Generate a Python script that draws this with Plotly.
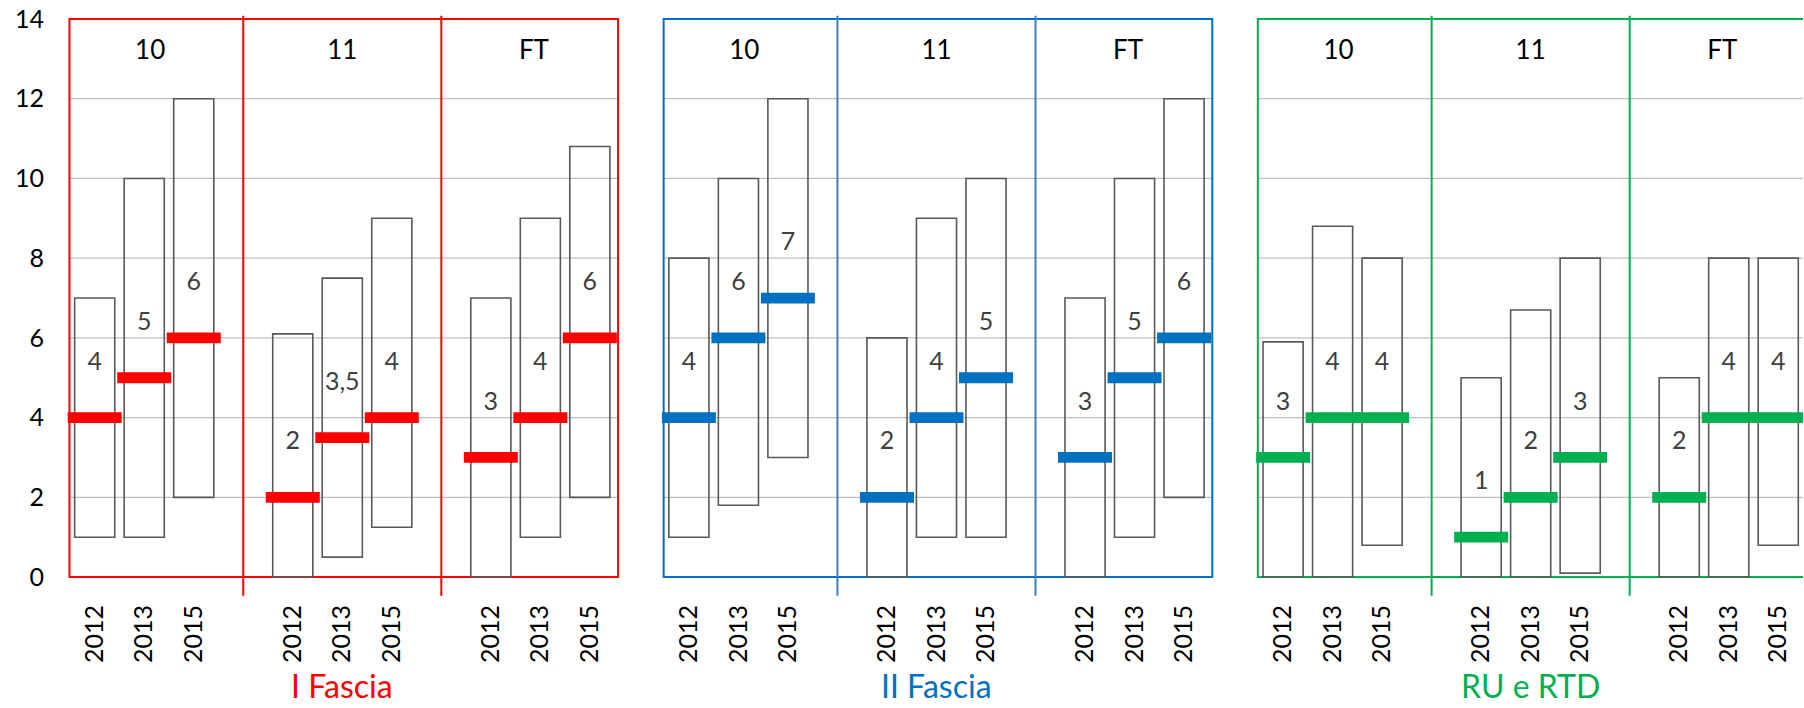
import plotly.graph_objects as go

# ---------------- data ----------------
groups = ["I Fascia", "II Fascia", "RU e RTD"]
subgroups = ["10", "11", "FT"]
years = ["2012", "2013", "2015"]

# order inside each group: 10-2012, 10-2013, 10-2015, 11-2012, ..., FT-2015
i_fascia_min = [1, 1, 2, 0, 0.5, 1.25, 0, 1, 2]
i_fascia_max = [7, 10, 12, 6.1, 7.5, 9, 7, 9, 10.8]
i_fascia_med = [4, 5, 6, 2, 3.5, 4, 3, 4, 6]

ii_fascia_min = [1, 1.8, 3, 0, 1, 1, 0, 1, 2]
ii_fascia_max = [8, 10, 12, 6, 9, 10, 7, 10, 12]
ii_fascia_med = [4, 6, 7, 2, 4, 5, 3, 5, 6]

ru_rtd_min = [0, 0, 0.8, 0, 0, 0.1, 0, 0, 0.8]
ru_rtd_max = [5.9, 8.8, 8, 5, 6.7, 8, 5, 8, 8]
ru_rtd_med = [3, 4, 4, 1, 2, 3, 2, 4, 4]

y_ticks = [0, 2, 4, 6, 8, 10, 12, 14]

# ---------------- styles ----------------
group_colors = ["#FF0000", "#0070C0", "#00B050"]
divider_colors = ["#FF0000", "#3F7CC0", "#00B050"]
FONT = "Lato"
SLOTS_PER_SUB = 4      # 3 years + 1 empty slot
SLOTS_PER_GROUP = 12   # 3 subgroups (11 slots) + 1 empty slot
Y_RANGE = [-0.5, 14.1]

mins = [i_fascia_min, ii_fascia_min, ru_rtd_min]
maxs = [i_fascia_max, ii_fascia_max, ru_rtd_max]
meds = [i_fascia_med, ii_fascia_med, ru_rtd_med]


def slot(g, s, y):
    return g * SLOTS_PER_GROUP + s * SLOTS_PER_SUB + y


def fmt(v):
    return f"{v:g}".replace(".", ",")


def y_paper(v):
    return (v - Y_RANGE[0]) / (Y_RANGE[1] - Y_RANGE[0])


fig = go.Figure()
shapes = []
annotations = []
tickvals, ticktext = [], []

for g, gname in enumerate(groups):
    xs = [slot(g, s, y) for s in range(len(subgroups)) for y in range(len(years))]
    tickvals += xs
    ticktext += [years[y] for s in range(len(subgroups)) for y in range(len(years))]
    lo, hi, md = mins[g], maxs[g], meds[g]

    # range boxes
    fig.add_trace(go.Bar(
        x=xs, base=lo, y=[h - l for h, l in zip(hi, lo)], width=0.81,
        marker=dict(color="rgba(0,0,0,0)", line=dict(color="#595959", width=1.6)),
        hoverinfo="skip", showlegend=False))
    # median markers
    fig.add_trace(go.Bar(
        x=xs, base=[m - 0.135 for m in md], y=[0.27] * len(md), width=1.09,
        marker=dict(color=group_colors[g], line=dict(width=0)),
        hoverinfo="skip", showlegend=False))
    # median values
    fig.add_trace(go.Scatter(
        x=xs, y=[m + 1.36 for m in md], mode="text", text=[fmt(m) for m in md],
        textfont=dict(family=FONT, size=25, color="#404040"),
        cliponaxis=False, hoverinfo="skip", showlegend=False))
    # subgroup labels
    offs = [0.12, 0.0, -0.13]
    fig.add_trace(go.Scatter(
        x=[slot(g, s, 1) + offs[s] for s in range(len(subgroups))],
        y=[13.15] * len(subgroups), mode="text", text=subgroups,
        textfont=dict(family=FONT, size=26, color="#000000"),
        cliponaxis=False, hoverinfo="skip", showlegend=False))

    left = slot(g, 0, 0) - 0.51
    right = slot(g, 2, 2) + 0.57
    # gridlines inside the group frame
    for v in y_ticks[1:-1]:
        shapes.append(dict(type="line", xref="x", yref="y", x0=left, x1=right, y0=v, y1=v,
                           line=dict(color="#BFBFBF", width=1.3), layer="below"))
    # frame
    shapes.append(dict(type="rect", xref="x", yref="y", x0=left, x1=right, y0=0, y1=14,
                       line=dict(color=group_colors[g], width=2), layer="below"))
    # subgroup dividers (at the empty slots)
    for s in range(1, len(subgroups)):
        xd = slot(g, s, 0) - 1
        shapes.append(dict(type="line", xref="x", yref="y", x0=xd, x1=xd, y0=-0.47, y1=14.08,
                           line=dict(color=divider_colors[g], width=2), layer="below"))
    # group label
    annotations.append(dict(x=slot(g, 1, 1), y=y_paper(-2.72), xref="x", yref="paper",
                            text=gname, showarrow=False, yanchor="middle",
                            font=dict(family=FONT, size=32, color=group_colors[g])))

fig.update_layout(
    template="none",
    width=1804, height=708,
    margin=dict(l=65, r=1, t=15, b=111, pad=0, autoexpand=False),
    paper_bgcolor="white", plot_bgcolor="white",
    barmode="overlay", showlegend=False, hovermode=False,
    shapes=shapes, annotations=annotations,
    xaxis=dict(range=[-0.6, 34.5], tickvals=tickvals, ticktext=ticktext, tickangle=-90,
               showgrid=False, zeroline=False, showline=False, ticks="", automargin=False,
               ticklabelstandoff=2,
               tickfont=dict(family=FONT, size=25, color="#000000")),
    yaxis=dict(range=Y_RANGE, tickvals=y_ticks, showgrid=False, zeroline=False,
               showline=False, ticks="", ticklabelstandoff=20, automargin=False,
               tickfont=dict(family=FONT, size=25, color="#000000")),
)

fig.write_html(
    "out.html",
    config={"displayModeBar": False},
    post_script="document.body.style.margin='0';document.body.style.padding='0';document.body.style.overflow='hidden';",
)
